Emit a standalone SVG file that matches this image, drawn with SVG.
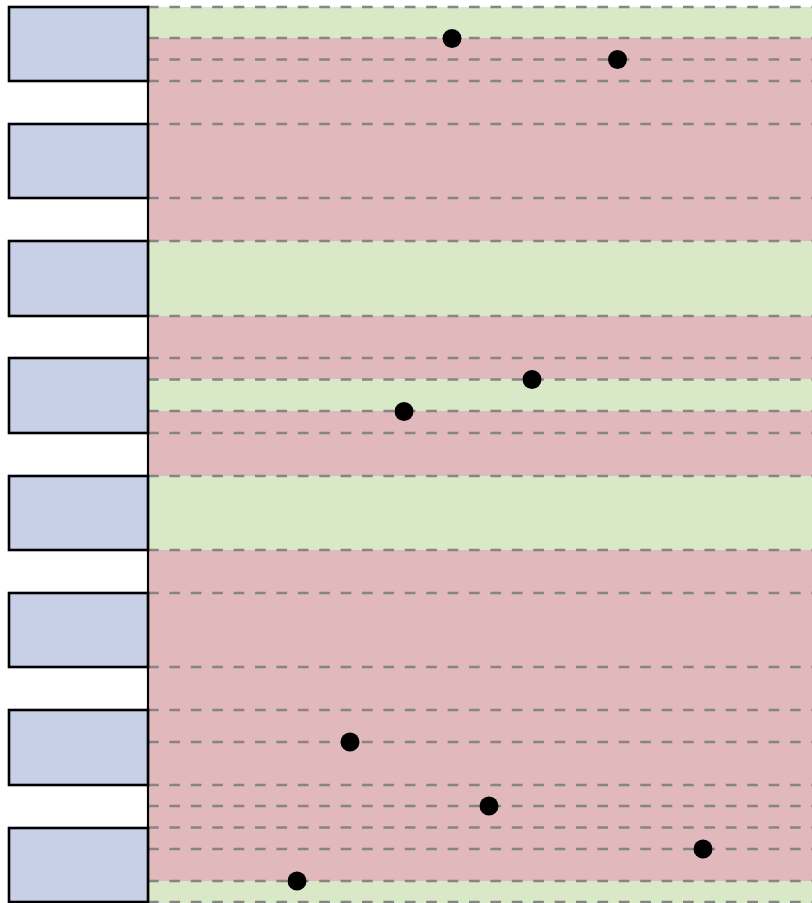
<svg xmlns="http://www.w3.org/2000/svg" width="812" height="903" viewBox="0 0 812 903">
<style>
.g{fill:#d9e9c7}
.r{fill:#e1b9bd}
.blk{fill:#c8d0e8;stroke:#000;stroke-width:2.6}
.d{stroke:#858585;stroke-width:2.4;stroke-dasharray:10.7 10.7;fill:none}
.dot{fill:#000}
</style>
<rect width="812" height="903" fill="#fff"/>
<g id="bands">
<rect class="g" x="148" y="7" width="664" height="31"/>
<rect class="r" x="148" y="38" width="664" height="203"/>
<rect class="g" x="148" y="241" width="664" height="75"/>
<rect class="r" x="148" y="316" width="664" height="63"/>
<rect class="g" x="148" y="379" width="664" height="32"/>
<rect class="r" x="148" y="411" width="664" height="65"/>
<rect class="g" x="148" y="476" width="664" height="74"/>
<rect class="r" x="148" y="550" width="664" height="331"/>
<rect class="g" x="148" y="881" width="664" height="22"/>
</g>
<g id="connectors">
<path class="d" d="M148 7H812M148 38H812M148 59.5H812M148 81H812M148 124H812M148 198H812M148 241H812M148 316H812M148 358H812M148 379.5H812M148 411H812M148 433H812M148 476H812M148 550H812M148 593H812M148 667H812M148 710H812M148 742H812M148 785H812M148 806H812M148 827.5H812M148 849H812M148 881H812M148 902H812"/>
<line x1="148" y1="7" x2="148" y2="903" stroke="#000" stroke-width="2.2"/>
</g>
<g id="b1"><rect class="blk" x="9" y="7" width="139" height="74"/></g>
<g id="b2"><rect class="blk" x="9" y="124" width="139" height="74"/></g>
<g id="b3"><rect class="blk" x="9" y="241" width="139" height="75"/></g>
<g id="b4"><rect class="blk" x="9" y="358" width="139" height="75"/></g>
<g id="b5"><rect class="blk" x="9" y="476" width="139" height="74"/></g>
<g id="b6"><rect class="blk" x="9" y="593" width="139" height="74"/></g>
<g id="b7"><rect class="blk" x="9" y="710" width="139" height="75"/></g>
<g id="b8"><rect class="blk" x="9" y="828" width="139" height="74"/></g>
<g id="p1"><circle class="dot" cx="452" cy="38.5" r="9.5"/></g>
<g id="p2"><circle class="dot" cx="617.5" cy="59.5" r="9.5"/></g>
<g id="p3"><circle class="dot" cx="532" cy="379.5" r="9.5"/></g>
<g id="p4"><circle class="dot" cx="404" cy="411.5" r="9.5"/></g>
<g id="p5"><circle class="dot" cx="350" cy="742" r="9.5"/></g>
<g id="p6"><circle class="dot" cx="489" cy="806" r="9.5"/></g>
<g id="p7"><circle class="dot" cx="703" cy="849" r="9.5"/></g>
<g id="p8"><circle class="dot" cx="297" cy="881" r="9.5"/></g>
</svg>
